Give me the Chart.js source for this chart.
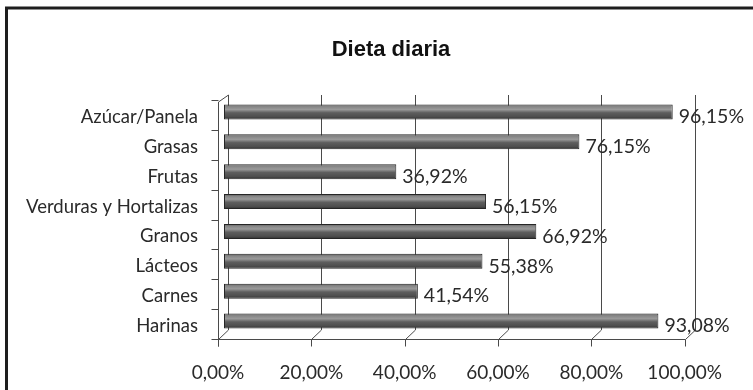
<!DOCTYPE html>
<html>
<head>
<meta charset="utf-8">
<script src="https://cdn.jsdelivr.net/npm/chart.js@4.4.1/dist/chart.umd.min.js"></script>
<style>
  html, body { margin: 0; padding: 0; background: #fff; }
  #wrap { width: 753px; height: 390px; }
</style>
</head>
<body>
<div id="wrap"><canvas id="dietaChart" width="753" height="390"></canvas></div>
<script>
// datos del grafico (de arriba hacia abajo)
var categorias = ['Azúcar/Panela', 'Grasas', 'Frutas', 'Verduras y Hortalizas', 'Granos', 'Lácteos', 'Carnes', 'Harinas'];
var porcentajes = [96.15, 76.15, 36.92, 56.15, 66.92, 55.38, 41.54, 93.08];
var valoresEje = [0, 20, 40, 60, 80, 100];
var etiquetasEje = ['0,00%', '20,00%', '40,00%', '60,00%', '80,00%', '100,00%'];
var titulo = 'Dieta diaria';

var fuenteTexto = 'Lato, "Open Sans", sans-serif';

// desplazamientos para imitar el efecto 3D de Excel
var DX_FRENTE = -6, DY_FRENTE = 3;
var DX_FONDO = 4, DY_FONDO = -6;

function linea(ctx, x1, y1, x2, y2) {
  ctx.beginPath();
  ctx.moveTo(x1, y1);
  ctx.lineTo(x2, y2);
  ctx.stroke();
}

// degradado gris para las barras "cilindricas"
function colorBarra(context) {
  var chart = context.chart;
  var ys = chart.scales.y;
  if (!ys || context.dataIndex === undefined) return '#777';
  var yc = ys.getPixelForValue(context.dataIndex);
  if (!isFinite(yc)) return '#777';
  var g = chart.ctx.createLinearGradient(0, yc - 8, 0, yc + 8);
  g.addColorStop(0, '#333');
  g.addColorStop(0.15, '#848484');
  g.addColorStop(0.35, '#9a9a9a');
  g.addColorStop(0.55, '#5e5e5e');
  g.addColorStop(0.8, '#4e4e4e');
  g.addColorStop(1, '#282828');
  return g;
}

// paredes, suelo, lineas de division, etiquetas y titulo
var marco3d = {
  id: 'marco3d',
  beforeDatasetsDraw: function(chart) {
    var ctx = chart.ctx;
    var area = chart.chartArea;
    var xs = chart.scales.x;
    var n = categorias.length;
    var paso = (area.bottom - area.top) / n;
    var arriba = area.top - 2;
    var fondoAbajo = area.bottom + DY_FONDO;
    var frenteY = Math.round(area.bottom + DY_FRENTE) + 0.5;
    ctx.save();
    ctx.strokeStyle = '#4a4a4a';
    ctx.lineWidth = 1;
    valoresEje.forEach(function(v) {
      var bx = Math.round(xs.getPixelForValue(v) + DX_FONDO) + 0.5;
      var fx = Math.round(xs.getPixelForValue(v) + DX_FRENTE) + 0.5;
      linea(ctx, bx, arriba, bx, fondoAbajo);
      linea(ctx, fx, frenteY, bx, fondoAbajo);
      linea(ctx, fx, frenteY, fx, frenteY + 7);
    });
    var x0f = Math.round(xs.getPixelForValue(0) + DX_FRENTE) + 0.5;
    var x0b = Math.round(xs.getPixelForValue(0) + DX_FONDO) + 0.5;
    var x100f = Math.round(xs.getPixelForValue(100) + DX_FRENTE) + 0.5;
    linea(ctx, x0f, frenteY, x100f, frenteY);
    linea(ctx, x0f, arriba + 7, x0f, frenteY + 7);
    linea(ctx, x0f, arriba + 7, x0b, arriba);
    for (var k = 0; k <= n; k++) {
      var yb = Math.round(area.top + k * paso + DY_FRENTE) + 0.5;
      linea(ctx, x0f - 7, yb, x0f, yb);
    }
    ctx.restore();
  },
  afterDatasetsDraw: function(chart) {
    var ctx = chart.ctx;
    var xs = chart.scales.x;
    var ys = chart.scales.y;
    ctx.save();
    ctx.fillStyle = '#2a2a2a';
    ctx.font = '19.5px ' + fuenteTexto;
    ctx.textAlign = 'left';
    ctx.textBaseline = 'middle';
    porcentajes.forEach(function(v, i) {
      var texto = v.toFixed(2).replace('.', ',') + '%';
      ctx.fillText(texto, xs.getPixelForValue(v) + 6, ys.getPixelForValue(i) + 5);
    });
    ctx.restore();
  },
  afterDraw: function(chart) {
    var ctx = chart.ctx;
    ctx.save();
    // titulo
    ctx.fillStyle = '#111';
    ctx.font = 'bold 22px "Liberation Sans", Arial, sans-serif';
    ctx.textAlign = 'center';
    ctx.textBaseline = 'middle';
    ctx.fillText(titulo, 391, 50);
    // borde del recuadro
    ctx.strokeStyle = '#1e1e1e';
    ctx.lineWidth = 3;
    linea(ctx, 5, 8, chart.width, 8);
    linea(ctx, 6.5, 8, 6.5, chart.height);
    ctx.restore();
  }
};

var grafico = new Chart(document.getElementById('dietaChart').getContext('2d'), {
  type: 'bar',
  data: {
    labels: categorias,
    datasets: [{
      data: porcentajes,
      backgroundColor: colorBarra,
      borderColor: '#262626',
      borderWidth: 1,
      borderSkipped: false,
      categoryPercentage: 1,
      barPercentage: 0.5
    }]
  },
  options: {
    indexAxis: 'y',
    responsive: false,
    animation: false,
    layout: { padding: { left: 0, right: 57, top: 97, bottom: 0 } },
    plugins: {
      legend: { display: false },
      tooltip: { enabled: false },
      title: { display: false }
    },
    scales: {
      x: {
        min: 0,
        max: 100,
        afterBuildTicks: function(scale) {
          scale.ticks = valoresEje.map(function(v) { return { value: v }; });
        },
        afterFit: function(scale) { scale.height = 390 - 336; },
        grid: { display: false, drawTicks: false },
        border: { display: false },
        ticks: {
          padding: 25,
          labelOffset: DX_FRENTE,
          color: '#2a2a2a',
          font: { family: fuenteTexto, size: 19 },
          maxRotation: 0,
          callback: function(value) {
            return etiquetasEje[valoresEje.indexOf(value)];
          }
        }
      },
      y: {
        afterFit: function(scale) { scale.width = 224; },
        grid: { display: false, drawTicks: false },
        border: { display: false },
        ticks: {
          padding: 26,
          labelOffset: 5,
          color: '#2a2a2a',
          font: { family: fuenteTexto, size: 18.5 }
        }
      }
    }
  },
  plugins: [marco3d]
});
</script>
</body>
</html>
